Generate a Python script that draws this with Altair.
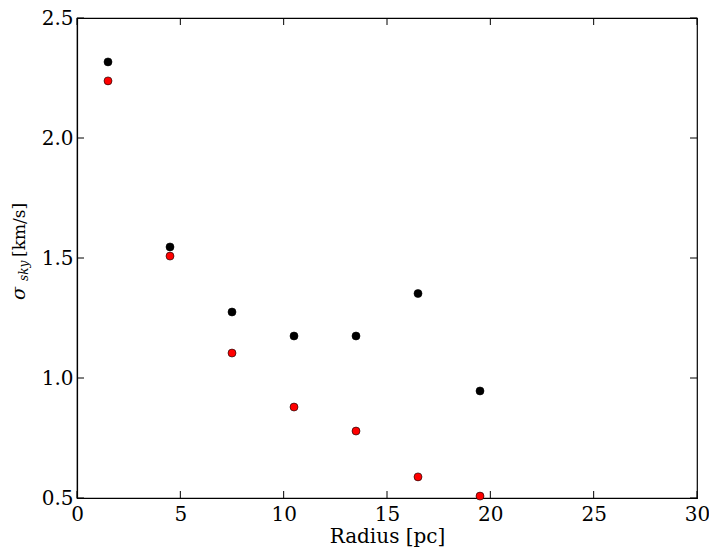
import altair as alt
import pandas as pd

radius = [1.5, 4.5, 7.5, 10.5, 13.5, 16.5, 19.5]
sigma_black = [2.317, 1.546, 1.275, 1.175, 1.175, 1.352, 0.946]
sigma_red = [2.238, 1.508, 1.104, 0.879, 0.779, 0.588, 0.508]
x_ticks = [0, 5, 10, 15, 20, 25, 30]
y_ticks = [0.5, 1.0, 1.5, 2.0, 2.5]

W, H = 620, 480
FONT = "DejaVu Serif"
FS = 20

df_b = pd.DataFrame({"r": radius, "s": sigma_black})
df_r = pd.DataFrame({"r": radius, "s": sigma_red})
df_xt = pd.DataFrame({"t": x_ticks})
df_yt = pd.DataFrame({"t": y_ticks})

xs = alt.Scale(domain=[0, 30], nice=False, zero=False)
ys = alt.Scale(domain=[0.5, 2.5], nice=False, zero=False)

x_axis = alt.Axis(values=x_ticks, format="d", ticks=False, grid=False,
                  labelFont=FONT, labelFontSize=FS, labelColor="black",
                  labelPadding=6, domainColor="black", domainWidth=1.2,
                  title="Radius [pc]", titleFont=FONT, titleFontSize=FS,
                  titleFontWeight="normal", titleColor="black", titlePadding=2,
                  labelFlush=False)
y_axis = alt.Axis(values=y_ticks, format=".1f", ticks=False, grid=False,
                  labelFont=FONT, labelFontSize=FS, labelColor="black",
                  labelPadding=4, domainColor="black", domainWidth=1.2,
                  title=None, labelFlush=False)

black_pts = alt.Chart(df_b).mark_circle(size=64, color="black", opacity=1,
                                        stroke="black", strokeWidth=0.6).encode(
    x=alt.X("r:Q", scale=xs, axis=x_axis),
    y=alt.Y("s:Q", scale=ys, axis=y_axis),
)
red_pts = alt.Chart(df_r).mark_circle(size=64, color="#ff0000", opacity=1,
                                      stroke="black", strokeWidth=0.6).encode(
    x=alt.X("r:Q", scale=xs),
    y=alt.Y("s:Q", scale=ys),
)

tick_style = dict(color="black", strokeWidth=1)
xt_bottom = alt.Chart(df_xt).mark_rule(**tick_style).encode(
    x=alt.X("t:Q", scale=xs), y=alt.value(H), y2=alt.value(H - 7))
xt_top = alt.Chart(df_xt).mark_rule(**tick_style).encode(
    x=alt.X("t:Q", scale=xs), y=alt.value(0), y2=alt.value(7))
yt_left = alt.Chart(df_yt).mark_rule(**tick_style).encode(
    y=alt.Y("t:Q", scale=ys), x=alt.value(0), x2=alt.value(7))
yt_right = alt.Chart(df_yt).mark_rule(**tick_style).encode(
    y=alt.Y("t:Q", scale=ys), x=alt.value(W), x2=alt.value(W - 7))

def label(txt, x, y, size, style):
    return alt.Chart(pd.DataFrame({"t": [txt]})).mark_text(
        angle=270, align="left", baseline="alphabetic", font=FONT,
        fontSize=size, fontStyle=style, color="black").encode(
        text="t:N", x=alt.value(x), y=alt.value(y))

ylab = (label("σ", -52, 282, 19, "italic")
        + label("sky", -49, 263, 12, "italic")
        + label("[km/s]", -52, 239, 17, "normal"))

chart = alt.layer(
    black_pts, red_pts, xt_bottom, xt_top, yt_left, yt_right, ylab
).properties(
    width=W, height=H,
    autosize=alt.AutoSizeParams(type="none"),
    padding={"left": 69, "top": 10, "right": 12, "bottom": 51},
    background="white",
).configure_view(stroke="black", strokeWidth=1.2)

chart.save("out.html", embed_options={"renderer": "svg", "actions": False})
